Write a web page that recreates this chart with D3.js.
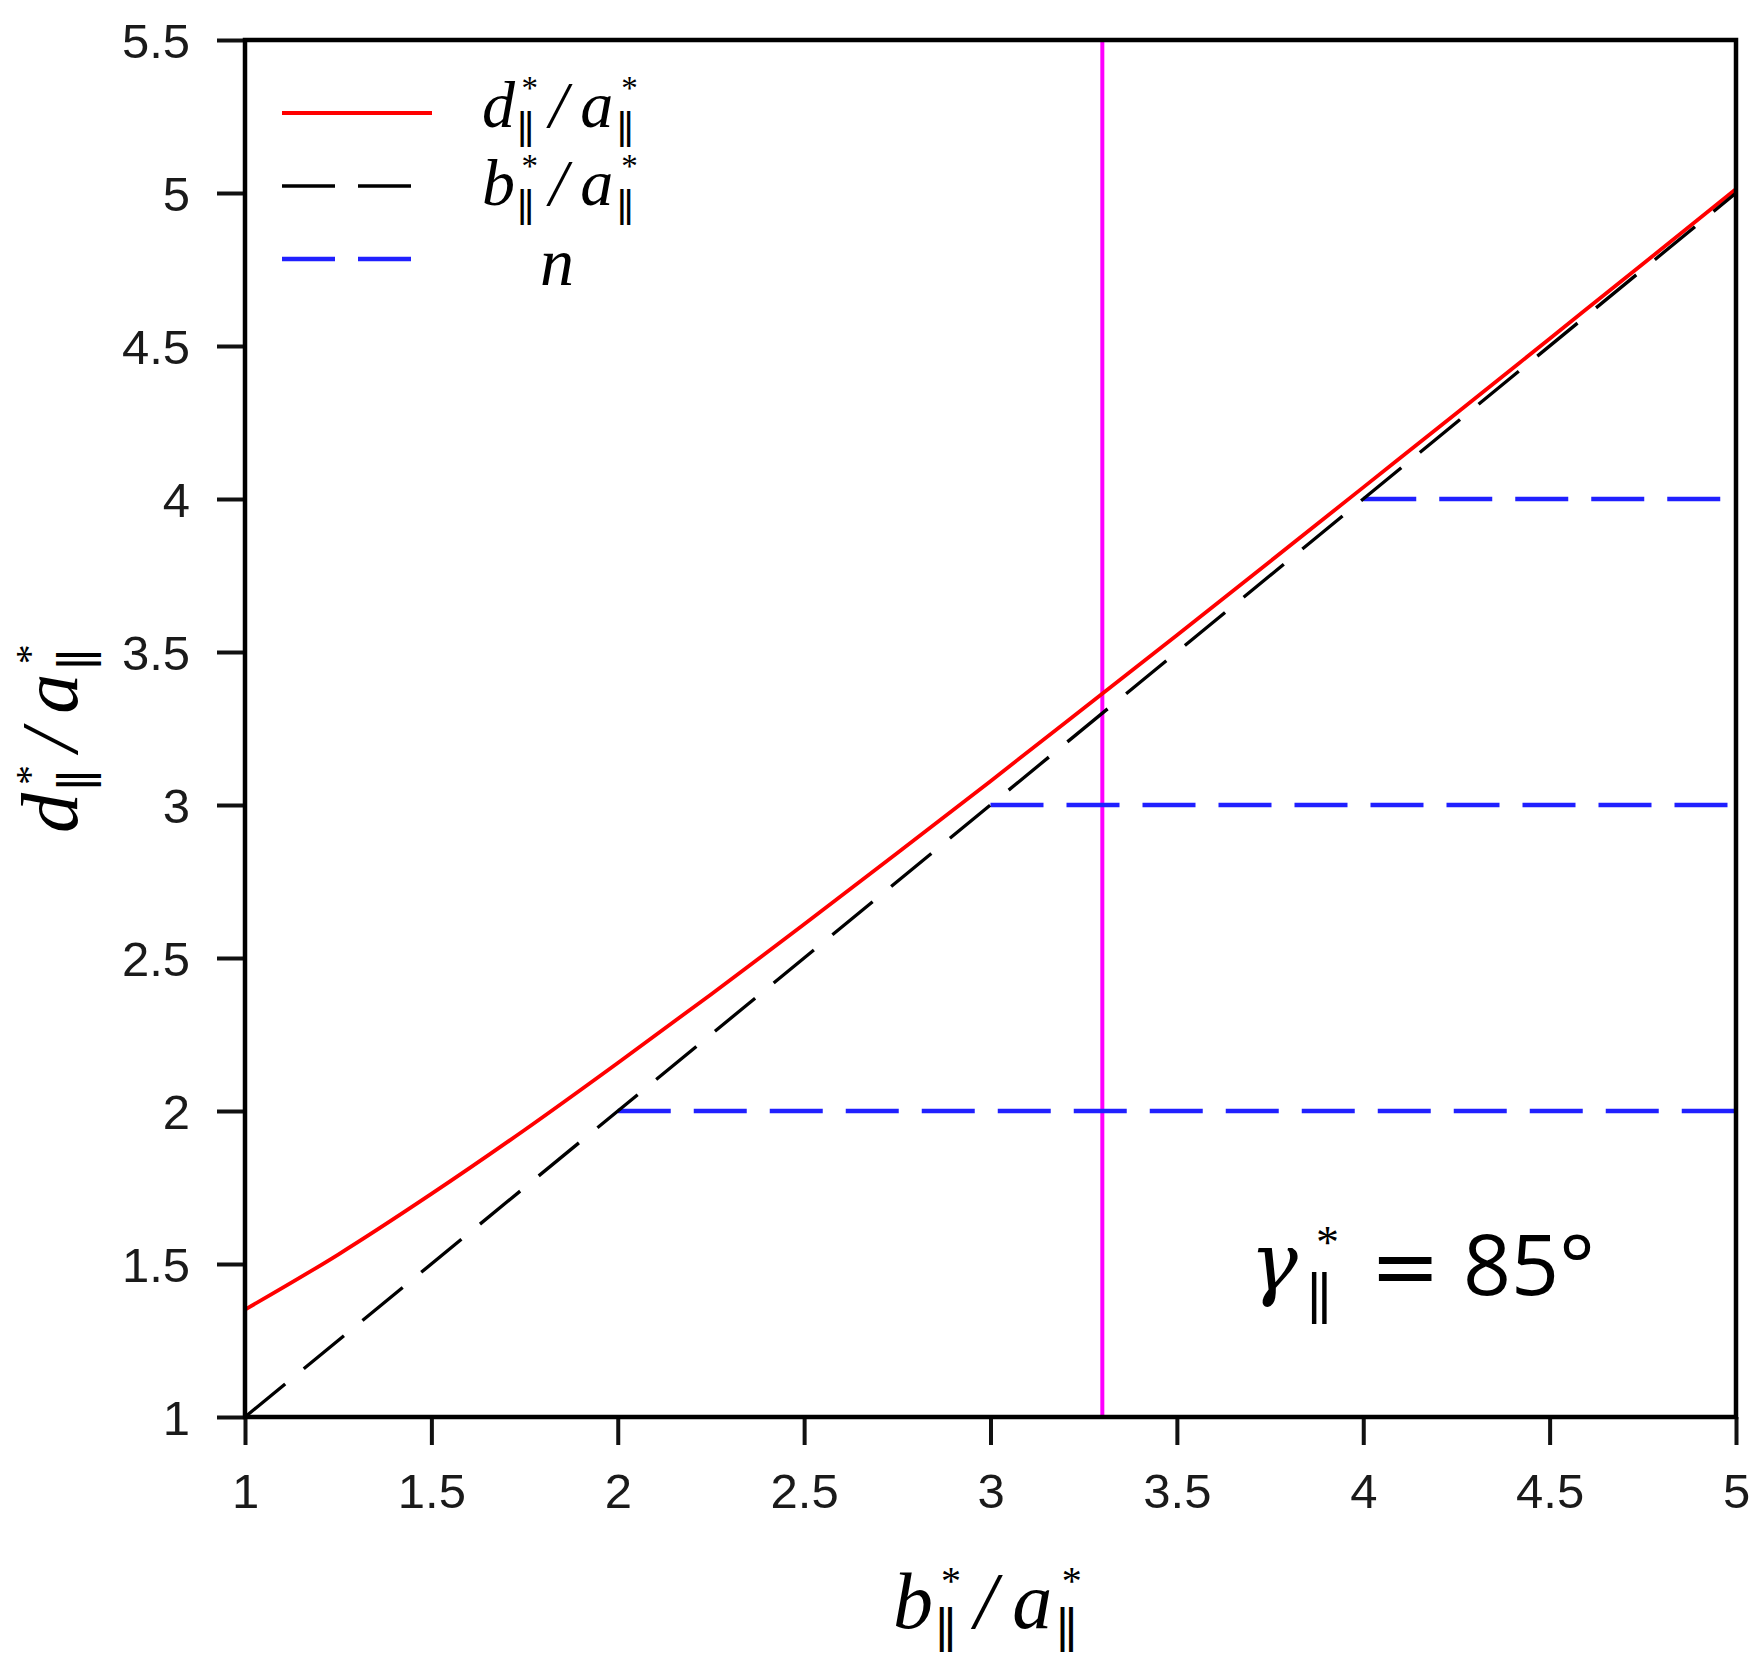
<!DOCTYPE html>
<html><head><meta charset="utf-8">
<script src="https://cdn.jsdelivr.net/npm/d3@7"></script>
<style>body{margin:0;background:#fff}</style>
</head><body><svg id="chart" width="1757" height="1677"></svg>
<script>
// ---- data ----
const bRatio = [1.0,1.25,1.5,1.75,2.0,2.25,2.5,2.75,3.0,3.25,3.5,3.75,4.0,4.25,4.5,4.75,5.0];
const dRatio = [1.351,1.531,1.729,1.938,2.157,2.381,2.610,2.843,3.078,3.316,3.555,3.796,4.038,4.280,4.524,4.768,5.013];
const diagX = [1, 5];
const diagY = [1, 5];
const nLevels = [2, 3, 4];
const nStartX = [2, 3, 4];
const nEndX = [5, 5, 5];
const markerX = 3.3;
const xTickValues = [1,1.5,2,2.5,3,3.5,4,4.5,5];
const xTickLabels = ["1","1.5","2","2.5","3","3.5","4","4.5","5"];
const yTickValues = [1,1.5,2,2.5,3,3.5,4,4.5,5,5.5];
const yTickLabels = ["1","1.5","2","2.5","3","3.5","4","4.5","5","5.5"];
const gammaValue = "85°";

// ---- layout ----
const L = 245, R = 1736, T = 40, B = 1417;
const svg = d3.select("#chart");
const x = d3.scaleLinear().domain([1, 5]).range([L, R]);
const y = d3.scaleLinear().domain([1, 5.5]).range([B, T]);

const SERIF = "'Liberation Serif','Times New Roman',serif";
const SANS = "'Liberation Sans',Arial,sans-serif";

// magenta marker
svg.append("line")
  .attr("x1", x(markerX)).attr("x2", x(markerX))
  .attr("y1", y(1)).attr("y2", y(5.5))
  .attr("stroke", "#ff00ff").attr("stroke-width", 4);

// blue n lines
nLevels.forEach((n, i) => {
  svg.append("line")
    .attr("x1", x(nStartX[i])).attr("x2", x(nEndX[i]))
    .attr("y1", y(n)).attr("y2", y(n))
    .attr("stroke", "#2020ff").attr("stroke-width", 4.5)
    .attr("stroke-dasharray", "53,23");
});

// red curve
const line = d3.line().x(d => x(d[0])).y(d => y(d[1])).curve(d3.curveMonotoneX);
svg.append("path")
  .datum(bRatio.map((b, i) => [b, dRatio[i]]))
  .attr("d", line)
  .attr("fill", "none").attr("stroke", "#ff0000").attr("stroke-width", 3.8);

// black dashed diagonal
svg.append("path")
  .datum(diagX.map((v, i) => [v, diagY[i]]))
  .attr("d", d3.line().x(d => x(d[0])).y(d => y(d[1])))
  .attr("fill", "none").attr("stroke", "#000").attr("stroke-width", 3.3)
  .attr("stroke-dasharray", "52,24");

// axes
const xAxis = d3.axisBottom(x).tickValues(xTickValues)
  .tickFormat((d, i) => xTickLabels[i]).tickSizeInner(28).tickSizeOuter(0).tickPadding(28);
const yAxis = d3.axisLeft(y).tickValues(yTickValues)
  .tickFormat((d, i) => yTickLabels[i]).tickSizeInner(28).tickSizeOuter(0).tickPadding(27);

const gx = svg.append("g").attr("transform", `translate(0,${B})`).call(xAxis);
const gy = svg.append("g").attr("transform", `translate(${L},0)`).call(yAxis);
[gx, gy].forEach(g => {
  g.select(".domain").remove();
  g.selectAll(".tick line").attr("stroke", "#111").attr("stroke-width", 4);
  g.selectAll(".tick text").attr("font-family", SANS).attr("font-size", 49).attr("fill", "#1a1a1a");
});
gy.selectAll(".tick text").attr("dy", "0.36em");

// frame
svg.append("rect").attr("x", L).attr("y", T).attr("width", R - L).attr("height", B - T)
  .attr("fill", "none").attr("stroke", "#000").attr("stroke-width", 4.5);

// measure helper
function measure(txt, fam, size, style) {
  const t = svg.append("text").attr("font-family", fam).attr("font-size", size)
    .attr("font-style", style || "normal").text(txt);
  const w = t.node().getComputedTextLength();
  t.remove();
  return w;
}
// ratio "X‖*/a‖*" as one text element with positioned tspans
function ratioText(g, x0, y0, S, num) {
  const t = g.append("text").attr("fill", "#000");
  const add = (txt, xx, yy, fam, size, style, weight, ls) => {
    t.append("tspan").attr("x", xx).attr("y", yy).attr("font-family", fam)
      .attr("font-size", size).attr("font-style", style || "normal")
      .attr("font-weight", weight || "normal")
      .attr("letter-spacing", ls || 0).text(txt);
  };
  const scripts = (xx) => {
    add("||", xx + 0.03 * S, y0 + 0.18 * S, SANS, 0.6 * S, "normal", "normal", -0.05 * S);
    add("*", xx + 0.1 * S, y0 - 0.42 * S, SERIF, 0.5 * S);
  };
  add(num, x0, y0, SERIF, S, "italic");
  const e1 = x0 + measure(num, SERIF, S, "italic");
  scripts(e1);
  const sx = e1 + 0.52 * S;
  add("/", sx, y0, SERIF, S, "italic");
  const ax = sx + 0.47 * S;
  add("a", ax, y0, SERIF, S, "italic");
  const e2 = ax + measure("a", SERIF, S, "italic");
  scripts(e2 + 0.02 * S);
}

// legend
const leg = svg.append("g");
leg.append("line").attr("x1", 282).attr("x2", 432).attr("y1", 113).attr("y2", 113)
  .attr("stroke", "#ff0000").attr("stroke-width", 3.8);
leg.append("line").attr("x1", 282).attr("x2", 412).attr("y1", 186).attr("y2", 186)
  .attr("stroke", "#000").attr("stroke-width", 3.5).attr("stroke-dasharray", "53,23");
leg.append("line").attr("x1", 282).attr("x2", 412).attr("y1", 259).attr("y2", 259)
  .attr("stroke", "#2020ff").attr("stroke-width", 4.5).attr("stroke-dasharray", "53,23");
ratioText(leg, 482, 127, 66, "d");
ratioText(leg, 482, 205, 66, "b");
leg.append("text").attr("x", 540).attr("y", 285).attr("font-family", SERIF)
  .attr("font-style", "italic").attr("font-size", 68).text("n");

// axis titles
ratioText(svg.append("g"), 893, 1628, 80, "b");
ratioText(svg.append("g").attr("transform", "translate(77,833) rotate(-90)"), 0, 0, 80, "d");

// gamma annotation
const ga = svg.append("text").attr("fill", "#000");
ga.append("tspan").attr("x", 1250).attr("y", 1290).attr("font-family", "'DejaVu Serif',serif")
  .attr("font-style", "italic").attr("font-size", 80).text("γ");
ga.append("tspan").attr("x", 1307).attr("y", 1312).attr("font-family", SANS)
  .attr("font-size", 55).attr("letter-spacing", -4).text("||");
ga.append("tspan").attr("x", 1316).attr("y", 1258).attr("font-family", SERIF)
  .attr("font-size", 46).text("*");
svg.append("text").attr("x", 1370).attr("y", 1295).attr("font-family", "'DejaVu Sans',sans-serif")
  .attr("font-size", 84).text("=");
svg.append("text").attr("x", 1463).attr("y", 1295).attr("font-family", "'Open Sans',sans-serif")
  .attr("font-size", 84).text(gammaValue);
</script>
</body></html>
